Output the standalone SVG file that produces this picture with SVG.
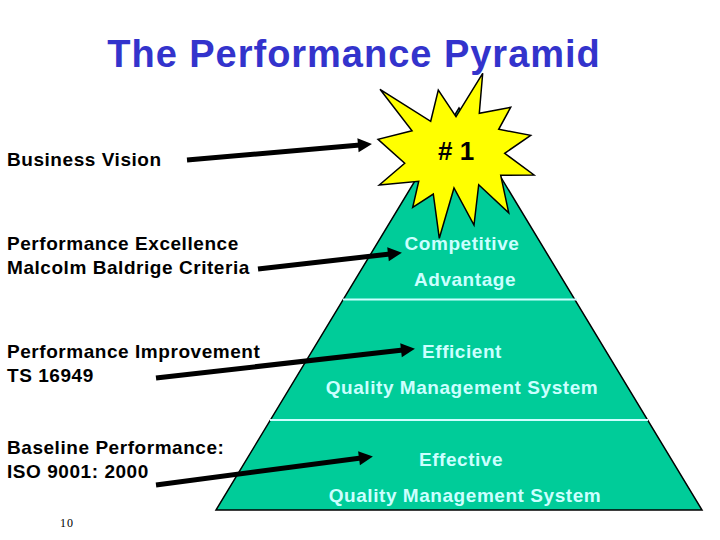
<svg xmlns="http://www.w3.org/2000/svg" width="720" height="540" viewBox="0 0 720 540">
<style>
text{font-family:"Liberation Sans",Arial,sans-serif;font-weight:700}
.l{font-size:19px;fill:#000;letter-spacing:.55px}
.p{font-size:19px;fill:#ccffff;text-anchor:middle;letter-spacing:.55px}
.c{stroke:#000;stroke-width:5;fill:none;marker-end:url(#a)}
</style>
<defs><marker id="a" markerUnits="userSpaceOnUse" markerWidth="16" markerHeight="16" refX="2" refY="7" orient="auto" overflow="visible"><path d="M0 0L14 7L0 14Z" fill="#000"/></marker></defs>
<rect width="720" height="540" fill="#fff"/>
<text x="354" y="67" text-anchor="middle" font-size="38" fill="#3333cc" letter-spacing=".98">The Performance Pyramid</text>
<g id="pyramid">
<polygon points="459,108 702,510 216,510" fill="#00cc99" stroke="#000" stroke-width="1.5"/>
<line x1="343" y1="299.500" x2="577" y2="299.500" stroke="#ccffff" stroke-width="2"/>
<line x1="270" y1="420" x2="648" y2="420" stroke="#ccffff" stroke-width="2"/>
<text class="p" x="462" y="250">Competitive</text>
<text class="p" x="465" y="286">Advantage</text>
<text class="p" x="462" y="358">Efficient</text>
<text class="p" x="462" y="394">Quality Management System</text>
<text class="p" x="461" y="466">Effective</text>
<text class="p" x="465" y="502">Quality Management System</text>
</g>
<g id="star">
<polygon points="482.700,73.300 479.300,113.300 510.700,107.300 498.700,129.300 530.700,135.300 504.700,153.300 534,175 500.700,175.300 508.700,212.700 478.700,184.700 474,225 454,188 439.300,238.300 433.300,194 412.700,207.300 418.700,181.300 379.300,185 404.700,163.300 378,139.300 412,130.700 380,89.300 430.700,121.300 438.300,90 456,116.700" fill="#ffff00" stroke="#000" stroke-width="1.500"/>
<text x="438" y="160" font-size="26" fill="#000">#<tspan dx="0"> 1</tspan></text>
</g>
<g id="labels">
<text class="l" x="7" y="166">Business Vision</text>
<text class="l" x="7" y="250">Performance Excellence</text>
<text class="l" x="7" y="274">Malcolm Baldrige Criteria</text>
<text class="l" x="7" y="358">Performance Improvement</text>
<text class="l" x="7" y="382">TS 16949</text>
<text class="l" x="7" y="454">Baseline Performance:</text>
<text class="l" x="7" y="478">ISO 9001: 2000</text>
<text x="60" y="527" font-size="12" style="font-family:'Liberation Serif',serif;font-weight:400" fill="#000" letter-spacing="1">10</text>
</g>
<g id="connectors">
<line class="c" x1="187" y1="160" x2="360" y2="145"/>
<line class="c" x1="258" y1="269" x2="390" y2="254"/>
<line class="c" x1="156" y1="378" x2="403" y2="350"/>
<line class="c" x1="156" y1="485" x2="361" y2="458"/>
</g>
</svg>
